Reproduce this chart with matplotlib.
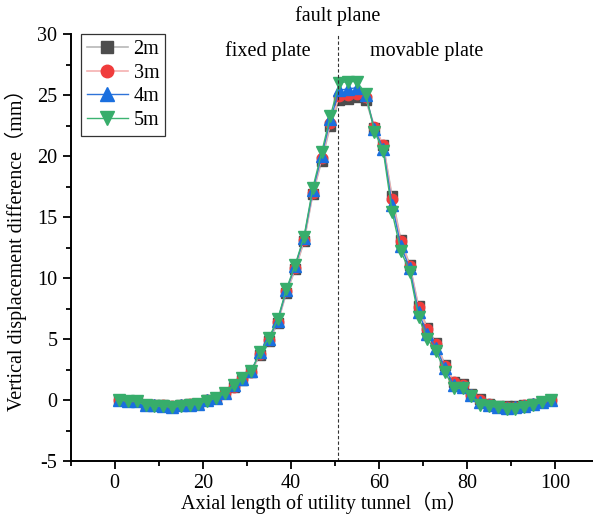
import matplotlib
matplotlib.use("Agg")
import matplotlib.pyplot as plt
from matplotlib.ticker import MultipleLocator

plt.rcParams['font.family'] = ['Liberation Serif', 'Noto Sans CJK SC', 'DejaVu Sans']
plt.rcParams['font.size'] = 14.5
plt.rcParams['axes.unicode_minus'] = False

# axial position along the tunnel (m)
x = list(range(1, 100, 2))

# vertical displacement difference (mm) for each burial depth
d2m = [0.0, -0.1, -0.1, -0.4, -0.4, -0.4, -0.5, -0.4, -0.35, -0.3,
       0.0, 0.2, 0.6, 1.1, 1.6, 2.3, 3.7, 4.8, 6.3, 8.8,
       10.7, 13.0, 16.9, 19.6, 22.5, 24.6, 24.7, 24.8, 24.6, 22.3,
       20.9, 16.7, 13.1, 11.1, 7.7, 5.9, 4.7, 2.9, 1.5, 1.3,
       0.5, 0.1, -0.3, -0.5, -0.5, -0.5, -0.4, -0.3, -0.2, 0.0]
d3m = [0.0, -0.1, -0.1, -0.4, -0.45, -0.45, -0.5, -0.45, -0.35, -0.3,
       0.0, 0.2, 0.6, 1.1, 1.7, 2.3, 3.8, 4.9, 6.4, 8.9,
       10.8, 13.1, 17.0, 19.8, 22.7, 24.9, 25.0, 25.1, 24.8, 22.4,
       20.9, 16.5, 13.0, 11.0, 7.6, 5.8, 4.6, 2.8, 1.5, 1.2,
       0.4, 0.0, -0.35, -0.55, -0.6, -0.55, -0.45, -0.35, -0.2, 0.0]
d4m = [0.0, -0.1, -0.1, -0.45, -0.45, -0.5, -0.55, -0.45, -0.4, -0.3,
       0.0, 0.2, 0.6, 1.2, 1.7, 2.4, 3.9, 5.0, 6.5, 9.0,
       11.0, 13.3, 17.2, 20.0, 23.0, 25.4, 25.5, 25.6, 25.0, 22.2,
       20.6, 16.0, 12.6, 10.8, 7.2, 5.4, 4.3, 2.6, 1.2, 1.1,
       0.4, -0.2, -0.4, -0.6, -0.65, -0.6, -0.5, -0.35, -0.2, 0.0]
d5m = [0.0, -0.1, -0.1, -0.45, -0.5, -0.5, -0.6, -0.5, -0.4, -0.35,
       -0.05, 0.15, 0.55, 1.2, 1.8, 2.4, 3.9, 5.1, 6.6, 9.1,
       11.1, 13.4, 17.4, 20.3, 23.3, 26.0, 26.1, 26.1, 25.1, 22.0,
       20.4, 15.4, 12.2, 10.5, 6.8, 5.0, 4.0, 2.3, 0.95, 0.95,
       0.3, -0.4, -0.5, -0.6, -0.7, -0.7, -0.6, -0.4, -0.2, 0.0]

labels = ['2m', '3m', '4m', '5m']
fault_x = 50.6

fig = plt.figure(figsize=(5.93, 5.14), dpi=100)
ax = fig.add_axes([0.1192, 0.1031, 0.891, 0.8307])

ax.plot(x, d2m, color='#b8b8b8', lw=1.2, marker='s', ms=7,
        mfc='#4d4d4d', mec='#4d4d4d', label=labels[0])
ax.plot(x, d3m, color='#f5b0b0', lw=1.2, marker='o', ms=7.5,
        mfc='#f03c3c', mec='#f03c3c', label=labels[1])
ax.plot(x, d4m, color='#2f73d8', lw=1.0, marker='^', ms=8,
        mfc='#1a6fdf', mec='#1a6fdf', label=labels[2])
ax.plot(x, d5m, color='#3cb371', lw=1.0, marker='v', ms=8.5,
        mfc='#37ad6b', mec='#37ad6b', label=labels[3])

ax.axvline(fault_x, color='#333333', lw=0.8, ls=(0, (3, 2)))

ax.set_xlim(-10, 110)
ax.set_ylim(-5, 30)
ax.xaxis.set_minor_locator(MultipleLocator(10))
ax.yaxis.set_major_locator(MultipleLocator(5))
ax.yaxis.set_minor_locator(MultipleLocator(2.5))
ax.set_xticks([0, 20, 40, 60, 80, 100])
ax.tick_params(which='major', direction='out', length=6, width=1.3, labelsize=14.5)
ax.tick_params(which='minor', direction='out', length=3.5, width=1.3)
for s in ['top', 'right']:
    ax.spines[s].set_visible(False)
for s in ['left', 'bottom']:
    ax.spines[s].set_linewidth(1.4)

ax.set_xlabel('Axial length of utility tunnel（m）', fontsize=14.5)
ax.set_ylabel('Vertical displacement difference（mm）', fontsize=14.5)
ax.xaxis.set_label_coords(0.48, -0.072)
ax.yaxis.set_label_coords(-0.083, 0.506)

ax.text(fault_x, 31.5, 'fault plane', ha='center', va='center', fontsize=14.5, clip_on=False)
ax.text(34.8, 28.6, 'fixed plate', ha='center', va='center', fontsize=14.5)
ax.text(70.9, 28.6, 'movable plate', ha='center', va='center', fontsize=14.5)

leg = ax.legend(loc='upper left', bbox_to_anchor=(0.02, 1.0), fontsize=14.5,
                fancybox=False, edgecolor='#333333', framealpha=1,
                handlelength=2.0, handletextpad=0.3, borderpad=0.3,
                labelspacing=0.22, borderaxespad=0, markerscale=1.2)
leg.get_frame().set_linewidth(0.9)

fig.savefig('out.png', dpi=100)
